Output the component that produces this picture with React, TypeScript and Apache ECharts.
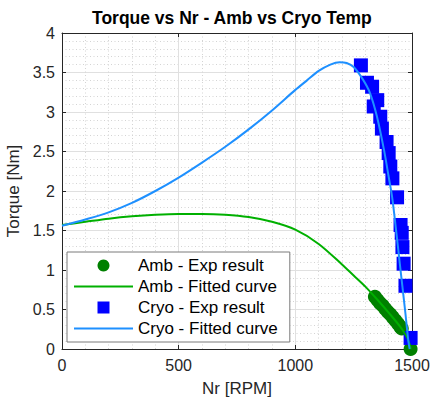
import React, { useEffect, useRef } from "react";
import * as echarts from "echarts";

const FONT = "Liberation Sans, Arial, Helvetica, sans-serif";

// Ambient temperature – experimental points [Nr (RPM), Torque (Nm)]
const ambExp: number[][] = [
  [1341, 0.66], [1352, 0.62], [1363, 0.58], [1374, 0.55], [1385, 0.51],
  [1396, 0.47], [1407, 0.44], [1418, 0.40], [1429, 0.36], [1440, 0.32],
  [1450, 0.28], [1456, 0.26], [1494, 0.0],
];

// Ambient temperature – fitted curve
const ambFit: number[][] = [
  [0, 1.57], [100, 1.61], [200, 1.65], [300, 1.68], [400, 1.70], [500, 1.71],
  [600, 1.71], [700, 1.70], [800, 1.67], [900, 1.61], [1000, 1.51], [1100, 1.33],
  [1200, 1.07], [1250, 0.93], [1300, 0.79], [1350, 0.63], [1400, 0.46],
  [1450, 0.28], [1480, 0.14], [1495, 0.0],
];

// Cryogenic temperature – experimental points
const cryoExp: number[][] = [
  [1281, 3.59], [1307, 3.37], [1329, 3.32], [1336, 3.07], [1351, 3.15],
  [1364, 2.94], [1371, 2.79], [1391, 2.62], [1400, 2.48], [1407, 2.31],
  [1416, 2.16], [1436, 1.92], [1451, 1.57], [1456, 1.47], [1459, 1.29],
  [1464, 1.08], [1472, 0.80], [1494, 0.14],
];

// Cryogenic temperature – fitted curve
const cryoFit: number[][] = [
  [0, 1.56], [100, 1.64], [200, 1.73], [300, 1.85], [400, 2.00], [500, 2.17],
  [600, 2.36], [700, 2.56], [800, 2.78], [900, 3.02], [1000, 3.28], [1050, 3.40],
  [1100, 3.52], [1150, 3.60], [1190, 3.63], [1220, 3.62], [1250, 3.57],
  [1290, 3.41], [1320, 3.24], [1350, 2.94], [1380, 2.52], [1400, 2.18],
  [1415, 1.92], [1430, 1.55], [1450, 1.02], [1470, 0.50], [1484, 0.11],
  [1490, 0.0],
];

const seriesNames = [
  "Amb - Exp result",
  "Amb - Fitted curve",
  "Cryo - Exp result",
  "Cryo - Fitted curve",
];

const legendIcons = [
  "circle",
  "path://M0,0L59,0L59,2L0,2Z",
  "path://M0,0L10,0L10,10L0,10Z",
  "path://M0,0L59,0L59,2L0,2Z",
];

const AXIS_COLOR = "#262626";

export default function App() {
  const ref = useRef<HTMLDivElement>(null);

  useEffect(() => {
    document.body.style.margin = "0";
    if (!ref.current) return;
    const chart = echarts.init(ref.current, null, { renderer: "svg" });

    const mainAxisCommon = {
      axisLine: { show: true, onZero: false, lineStyle: { color: AXIS_COLOR, width: 1 } },
      axisTick: { show: true, inside: true, length: 4, lineStyle: { color: AXIS_COLOR } },
      axisLabel: {
        fontSize: 16,
        color: AXIS_COLOR,
        fontFamily: FONT,
        formatter: (v: number) => String(v),
      },
      splitLine: { show: true, lineStyle: { color: "#e0e0e0", width: 1 } },
      minorTick: { show: false, splitNumber: 5 },
      minorSplitLine: { show: true, lineStyle: { color: "#d4d4d4", width: 1, type: [1, 2.5] } },
      nameTextStyle: { fontSize: 17, color: AXIS_COLOR, fontFamily: FONT },
    };
    const boxAxisCommon = {
      axisLine: { show: true, onZero: false, lineStyle: { color: AXIS_COLOR, width: 1 } },
      axisTick: { show: true, inside: true, length: 4, lineStyle: { color: AXIS_COLOR } },
      axisLabel: { show: false },
      splitLine: { show: false },
    };

    chart.setOption({
      animation: false,
      backgroundColor: "#ffffff",
      title: {
        text: "Torque vs Nr - Amb vs Cryo Temp",
        left: 87,
        top: 4,
        textStyle: { fontSize: 17.5, fontWeight: "bold", color: "#000", fontFamily: FONT },
      },
      grid: { left: 62, right: 18, top: 33, bottom: 48, containLabel: false, outerBoundsMode: "none" },
      legend: {
        orient: "vertical",
        left: 67,
        top: 252,
        padding: [5, 12, 5, 7],
        itemGap: 4,
        itemWidth: 59,
        itemHeight: 12,
        symbolKeepAspect: true,
        backgroundColor: "#ffffff",
        borderColor: "#7a7a7a",
        borderWidth: 1,
        borderRadius: 0,
        textStyle: { fontSize: 17, color: "#000", fontFamily: FONT },
        data: seriesNames.map((name, i) => ({ name, icon: legendIcons[i] })),
      },
      xAxis: [
        {
          type: "value",
          position: "bottom",
          min: 0,
          max: 1500,
          interval: 500,
          name: "Nr [RPM]",
          nameLocation: "middle",
          nameGap: 30.5,
          ...mainAxisCommon,
          axisLabel: { ...mainAxisCommon.axisLabel, margin: 8 },
        },
        { type: "value", position: "top", min: 0, max: 1500, interval: 500, ...boxAxisCommon },
      ],
      yAxis: [
        {
          type: "value",
          position: "left",
          min: 0,
          max: 4,
          interval: 0.5,
          name: "Torque [Nm]",
          nameLocation: "middle",
          nameGap: 28,
          ...mainAxisCommon,
          axisLabel: { ...mainAxisCommon.axisLabel, margin: 7 },
        },
        { type: "value", position: "right", min: 0, max: 4, interval: 0.5, ...boxAxisCommon },
      ],
      series: [
        {
          name: seriesNames[0],
          type: "scatter",
          data: ambExp,
          symbol: "circle",
          symbolSize: 14,
          itemStyle: { color: "#008000", opacity: 1 },
        },
        {
          name: seriesNames[1],
          type: "line",
          data: ambFit,
          symbol: "none",
          smooth: 0.3,
          lineStyle: { color: "#00b000", width: 2 },
          itemStyle: { color: "#00b000" },
        },
        {
          name: seriesNames[2],
          type: "scatter",
          data: cryoExp,
          symbol: "rect",
          symbolSize: 14,
          itemStyle: { color: "#0000ff", opacity: 1 },
        },
        {
          name: seriesNames[3],
          type: "line",
          data: cryoFit,
          symbol: "none",
          smooth: 0.3,
          lineStyle: { color: "#1e90ff", width: 2 },
          itemStyle: { color: "#1e90ff" },
        },
      ],
    });

    return () => chart.dispose();
  }, []);

  return <div ref={ref} style={{ width: 430, height: 397 }} />;
}
